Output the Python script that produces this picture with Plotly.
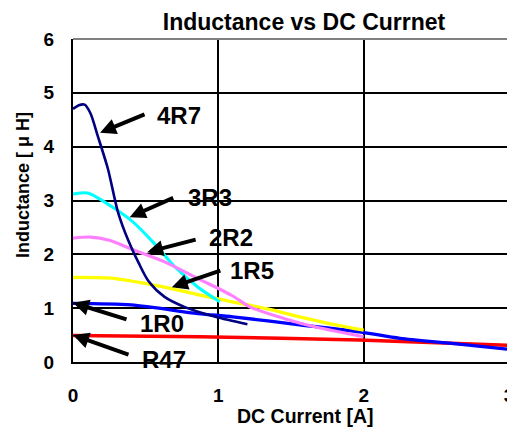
import plotly.graph_objects as go

# ---- data ----
x_4r7 = [0, 0.04, 0.08, 0.12, 0.17, 0.24, 0.31, 0.38, 0.45, 0.52, 0.63, 0.77, 0.98, 1.2]
y_4r7 = [4.70, 4.77, 4.78, 4.62, 4.20, 3.59, 2.78, 2.26, 1.85, 1.50, 1.21, 1.02, 0.84, 0.70]

x_3r3 = [0, 0.1, 0.17, 0.40, 0.56, 0.70, 0.86, 1.01]
y_3r3 = [3.12, 3.14, 3.05, 2.63, 2.20, 1.77, 1.39, 1.12]

x_2r2 = [0, 0.12, 0.25, 0.40, 0.63, 0.86, 1.09, 1.22, 1.45, 1.67, 2.0]
y_2r2 = [2.30, 2.32, 2.26, 2.10, 1.86, 1.55, 1.24, 1.02, 0.81, 0.65, 0.47]

x_1r5 = [0, 0.29, 0.63, 0.98, 1.33, 1.56, 1.79, 2.0]
y_1r5 = [1.57, 1.55, 1.39, 1.18, 0.99, 0.84, 0.70, 0.59]

x_1r0 = [0, 0.4, 0.86, 1.1, 1.56, 1.97, 2.25, 2.59, 3.0]
y_1r0 = [1.09, 1.06, 0.90, 0.84, 0.69, 0.56, 0.44, 0.35, 0.235]

x_r47 = [0, 0.87, 1.97, 3.0]
y_r47 = [0.49, 0.47, 0.41, 0.31]

x_ticks = [0, 1, 2, 3]
y_ticks = [0, 1, 2, 3, 4, 5, 6]

# label text position, arrow tip position
labels = ["4R7", "3R3", "2R2", "1R5", "1R0", "R47"]
label_x = [0.564, 0.78, 0.92, 1.065, 0.447, 0.46]
label_y = [4.57, 3.06, 2.32, 1.70, 0.72, 0.04]
tip_x = [0.186, 0.39, 0.51, 0.68, 0.0, 0.0]
tip_y = [4.26, 2.69, 2.04, 1.39, 1.10, 0.50]
tail_dx = [46, 45, 50, 50, 55, 57]
tail_dy = [-19, -20, -13, -17, 17, 20]

series = [
    (x_r47, y_r47, "#FF0000", 3.5),
    (x_1r0, y_1r0, "#0000FF", 3.3),
    (x_1r5, y_1r5, "#FFFF00", 3.3),
    (x_3r3, y_3r3, "#00FFFF", 3.1),
    (x_2r2, y_2r2, "#FF80FF", 3.1),
    (x_4r7, y_4r7, "#000080", 2.6),
]

FONT = "Liberation Sans"
OFF = 8  # page body margin
W, H = 515 - OFF, 427 - OFF
L, R, T, B = 73 - OFF, 515 - 509, 39 - OFF, 427 - 362
PW, PH = W - L - R, H - T - B

fig = go.Figure()
for xs, ys, col, w in series:
    fig.add_trace(go.Scatter(x=xs, y=ys, mode="lines",
                             line=dict(color=col, width=w, shape="spline", smoothing=0.8),
                             showlegend=False, hoverinfo="skip"))

annotations = []
for t, lx, ly in zip(labels, label_x, label_y):
    annotations.append(dict(x=lx, y=ly, xref="x", yref="y", text=t, showarrow=False,
                            xanchor="left", yanchor="middle",
                            font=dict(family=FONT, size=24, color="black", weight="bold")))
for tx, ty, dx, dy in zip(tip_x, tip_y, tail_dx, tail_dy):
    annotations.append(dict(x=tx, y=ty, xref="x", yref="y", text="", showarrow=True,
                            ax=dx, ay=dy, arrowhead=2, arrowwidth=4, arrowsize=0.8,
                            arrowcolor="black", standoff=0))

annotations.append(dict(text="DC Current [A]", xref="paper", yref="paper",
                        x=(305 - 73) / PW, y=-(416 - 362) / PH,
                        xanchor="center", yanchor="middle", showarrow=False,
                        font=dict(family=FONT, size=19.5, color="black", weight="bold")))
annotations.append(dict(text="Inductance [ μ H]", xref="paper", yref="paper",
                        x=-(73 - 23) / PW, y=(362 - 185) / PH,
                        xanchor="center", yanchor="middle", textangle=-90, showarrow=False,
                        font=dict(family=FONT, size=18, color="black", weight="bold")))

fig.update_layout(
    width=W, height=H,
    margin=dict(l=L, r=R, t=T, b=B, autoexpand=False),
    paper_bgcolor="white", plot_bgcolor="white",
    title=dict(text="Inductance vs DC Currnet", x=(304 - OFF) / W, xanchor="center",
               y=1 - (22 - OFF) / H, yanchor="middle",
               font=dict(family=FONT, size=23, color="black", weight="bold")),
    annotations=annotations,
)

fig.update_xaxes(range=[0, 3], tickvals=x_ticks, ticktext=[str(v) for v in x_ticks],
                 showgrid=True, gridcolor="black", gridwidth=1.5, zeroline=False,
                 showline=True, linecolor="black", linewidth=2, ticks="",
                 ticklabelstandoff=15,
                 tickfont=dict(family=FONT, size=19, color="black", weight="bold"))
fig.update_yaxes(range=[0, 6], tickvals=y_ticks, ticktext=[str(v) for v in y_ticks],
                 showgrid=True, gridcolor="black", gridwidth=1.5, zeroline=False,
                 showline=True, linecolor="black", linewidth=2, ticks="",
                 ticklabelstandoff=13,
                 tickfont=dict(family=FONT, size=19, color="black", weight="bold"))

# gray frame on top and right
fig.add_shape(type="line", xref="x domain", yref="y domain", x0=0, x1=1, y0=1, y1=1,
              line=dict(color="#808080", width=2))
fig.add_shape(type="line", xref="x domain", yref="y domain", x0=1, x1=1, y0=0, y1=1,
              line=dict(color="#808080", width=2), layer="below")

fig.write_html("out.html")
